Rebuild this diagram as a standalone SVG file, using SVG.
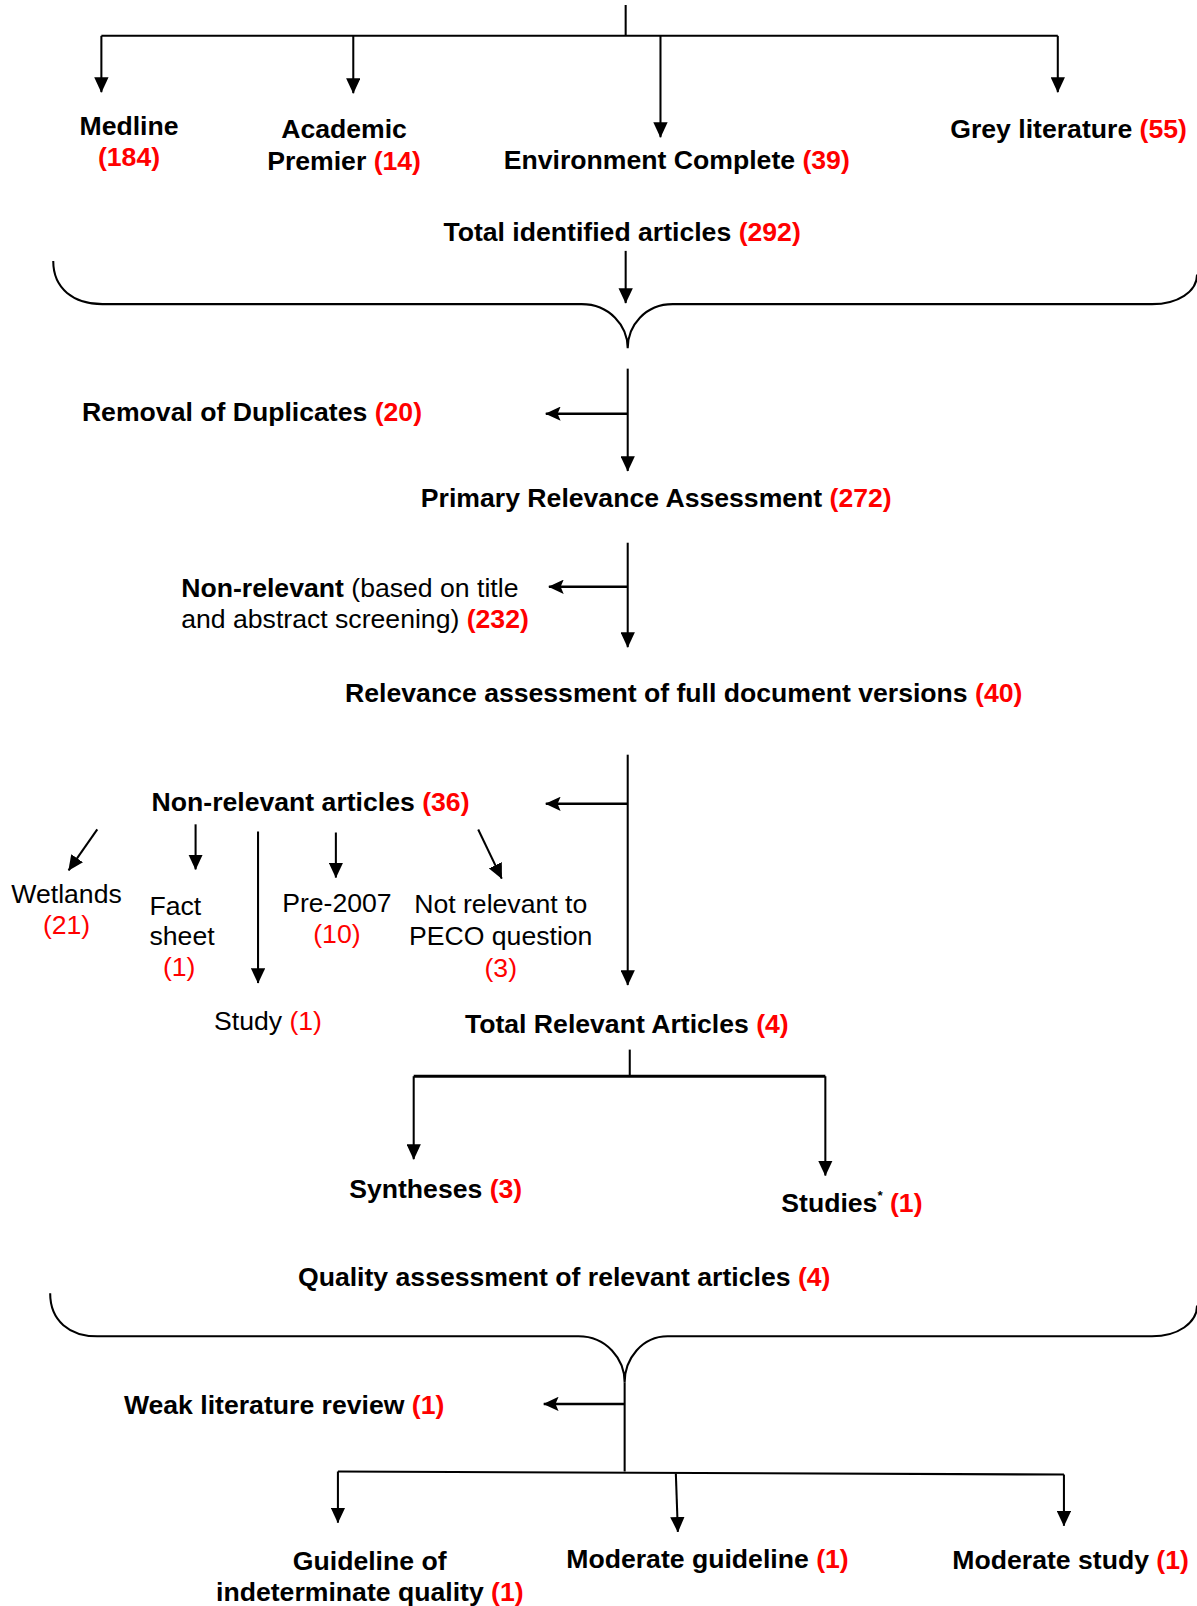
<svg xmlns="http://www.w3.org/2000/svg" width="1197" height="1606" viewBox="0 0 1197 1606">
<style>
text{font-family:"Liberation Sans",Arial,sans-serif;font-size:26px;fill:#000}
.b{font-weight:bold}
.r{fill:#FF0000}
.c{text-anchor:middle}
.ln{stroke:#000;stroke-width:2;fill:none}
.ar{stroke:#000;stroke-width:2;fill:none;marker-end:url(#ah)}
.al{stroke:#000;stroke-width:2.4;fill:none;marker-end:url(#ahl)}
</style>
<defs>
<marker id="ah" viewBox="0 0 15 14" refX="14.5" refY="7" markerWidth="15" markerHeight="14" markerUnits="userSpaceOnUse" orient="auto"><path d="M0,0 L15,7 L0,14 z" fill="#000"/></marker>
<marker id="ahl" viewBox="0 0 15 14" refX="14.5" refY="7" markerWidth="15" markerHeight="14" markerUnits="userSpaceOnUse" orient="auto"><path d="M0,0 L15,7 L0,14 L3,7 z" fill="#000"/></marker>
</defs>
<rect width="1197" height="1606" fill="#fff"/>
<g transform="scale(1.024)">
<g id="connectors">
<path class="ln" d="M611,5 V35 M99,35 H1033"/>
<path class="ar" d="M99,35 V90"/>
<path class="ar" d="M345,35 V91"/>
<path class="ar" d="M645,35 V134"/>
<path class="ar" d="M1033,35 V90"/>
<path class="ar" d="M611,245 V296"/>
<path class="ln" d="M52,255 C52,282 72,297 100,297 L568,297 C595,297 613,318 613,340 C613,318 630,297 657,297 L1125,297 C1150,297 1169,285 1169,268"/>
<path class="ar" d="M613,360 V460"/>
<path class="al" d="M613,404 H533"/>
<path class="ar" d="M613,530 V632"/>
<path class="al" d="M613,573 H536"/>
<path class="ar" d="M613,737 V962"/>
<path class="al" d="M613,785 H533"/>
<path class="ar" d="M95,810 L67,850"/>
<path class="ar" d="M191,805 V849"/>
<path class="ar" d="M252,812 V960"/>
<path class="ar" d="M328,813 V857"/>
<path class="ar" d="M467,810 L490,858"/>
<path class="ln" d="M615,1025 V1051"/>
<path class="ln" style="stroke-width:3" d="M404,1051 H806"/>
<path class="ar" d="M404,1051 V1132"/>
<path class="ar" d="M806,1051 V1148"/>
<path class="ln" d="M49,1263 C49,1290 68,1305 95,1305 L565,1305 C592,1305 610,1327 610,1350 C610,1327 627,1305 652,1305 L1125,1305 C1150,1305 1169,1292 1169,1275"/>
<path class="ln" d="M610,1350 V1437"/>
<path class="al" d="M610,1371 H531"/>
<path class="ln" d="M330,1437 L1039,1440"/>
<path class="ar" d="M330,1437 V1487"/>
<path class="ar" d="M660,1439 L662,1496"/>
<path class="ar" d="M1039,1440 V1490"/>
</g>
<g id="medline"><text class="b c" x="126" y="132">Medline</text><text class="b c r" x="126" y="162">(184)</text></g>
<g id="academic"><text class="b c" x="336" y="135">Academic</text><text class="b c" x="336" y="166">Premier <tspan class="r">(14)</tspan></text></g>
<g id="environment"><text class="b" x="492" y="165">Environment Complete <tspan class="r">(39)</tspan></text></g>
<g id="grey"><text class="b" x="928" y="135">Grey literature <tspan class="r">(55)</tspan></text></g>
<g id="total"><text class="b" x="433" y="235">Total identified articles <tspan class="r">(292)</tspan></text></g>
<g id="duplicates"><text class="b" x="80" y="411">Removal of Duplicates <tspan class="r">(20)</tspan></text></g>
<g id="primary"><text class="b" x="411" y="495">Primary Relevance Assessment <tspan class="r">(272)</tspan></text></g>
<g id="nonrel1"><text x="177" y="583"><tspan class="b">Non-relevant</tspan> (based on title</text><text x="177" y="613">and abstract screening) <tspan class="b r">(232)</tspan></text></g>
<g id="fulldoc"><text class="b" x="337" y="686">Relevance assessment of full document versions <tspan class="r">(40)</tspan></text></g>
<g id="nonrel2"><text class="b" x="148" y="792">Non-relevant articles <tspan class="r">(36)</tspan></text></g>
<g id="wetlands"><text class="c" x="65" y="882">Wetlands</text><text class="c r" x="65" y="912">(21)</text></g>
<g id="factsheet"><text x="146" y="894">Fact</text><text x="146" y="923">sheet</text><text class="c r" x="175" y="953">(1)</text></g>
<g id="study"><text x="209" y="1006">Study <tspan class="r">(1)</tspan></text></g>
<g id="pre2007"><text class="c" x="329" y="891">Pre-2007</text><text class="c r" x="329" y="921">(10)</text></g>
<g id="peco"><text class="c" x="489" y="892">Not relevant to</text><text class="c" x="489" y="923">PECO question</text><text class="c r" x="489" y="954">(3)</text></g>
<g id="totalrel"><text class="b" x="454" y="1009">Total Relevant Articles <tspan class="r">(4)</tspan></text></g>
<g id="syntheses"><text class="b" x="341" y="1170">Syntheses <tspan class="r">(3)</tspan></text></g>
<g id="studies"><text class="b" x="763" y="1184">Studies<tspan style="font-size:13px" dy="-12">*</tspan><tspan dy="12"> </tspan><tspan class="r">(1)</tspan></text></g>
<g id="quality"><text class="b" x="291" y="1256">Quality assessment of relevant articles <tspan class="r">(4)</tspan></text></g>
<g id="weak"><text class="b" x="121" y="1381">Weak literature review <tspan class="r">(1)</tspan></text></g>
<g id="indeterminate"><text class="b c" x="361" y="1533">Guideline of</text><text class="b" x="211" y="1563">indeterminate quality <tspan class="r">(1)</tspan></text></g>
<g id="modguide"><text class="b" x="553" y="1531">Moderate guideline <tspan class="r">(1)</tspan></text></g>
<g id="modstudy"><text class="b" x="930" y="1532">Moderate study <tspan class="r">(1)</tspan></text></g>
</g>
</svg>
